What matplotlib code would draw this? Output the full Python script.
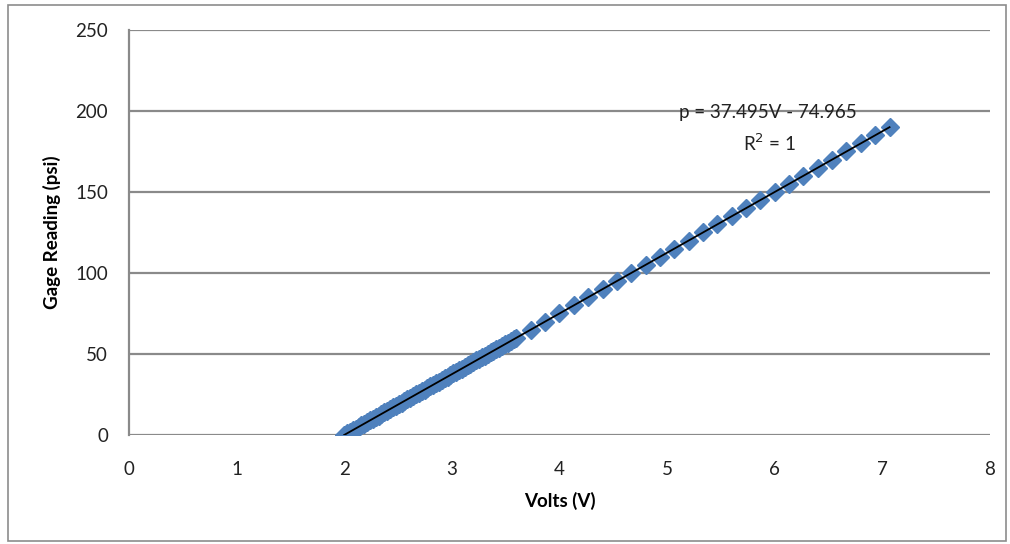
import matplotlib.pyplot as plt
from matplotlib.patches import Rectangle

# gage readings (psi) and measured volts
volts = [1.9993, 2.0260, 2.0527, 2.0794, 2.1060, 2.1327, 2.1594, 2.1860,
         2.2127, 2.2394, 2.2660, 2.2927, 2.3194, 2.3461, 2.3727, 2.3994,
         2.4261, 2.4528, 2.4794, 2.5061, 2.5328, 2.5594, 2.5861, 2.6128,
         2.6394, 2.6661, 2.6928, 2.7195, 2.7461, 2.7728, 2.7995, 2.8262,
         2.8528, 2.8795, 2.9062, 2.9328, 2.9595, 2.9862, 3.0128, 3.0395,
         3.0662, 3.0929, 3.1195, 3.1462, 3.1729, 3.1996, 3.2262, 3.2529,
         3.2796, 3.3062, 3.3329, 3.3596, 3.3862, 3.4129, 3.4396, 3.4663,
         3.4929, 3.5196, 3.5463, 3.5729, 3.5996,
         3.7329, 3.8663, 3.9996, 4.1330, 4.2663, 4.3997, 4.5330, 4.6664,
         4.7997, 4.9331, 5.0664, 5.1998, 5.3331, 5.4665, 5.5998, 5.7332,
         5.8665, 5.9999, 6.1332, 6.2666, 6.3999, 6.5333, 6.6666, 6.8000,
         6.9333, 7.0667]
gage = [0, 1, 2, 3, 4, 5, 6, 7, 8, 9, 10, 11, 12, 13, 14, 15,
        16, 17, 18, 19, 20, 21, 22, 23, 24, 25, 26, 27, 28, 29, 30, 31,
        32, 33, 34, 35, 36, 37, 38, 39, 40, 41, 42, 43, 44, 45, 46, 47,
        48, 49, 50, 51, 52, 53, 54, 55, 56, 57, 58, 59, 60,
        65, 70, 75, 80, 85, 90, 95, 100, 105, 110, 115, 120, 125, 130,
        135, 140, 145, 150, 155, 160, 165, 170, 175, 180, 185, 190]

slope = 37.495
intercept = -74.965
fit_x = [volts[0], volts[-1]]
fit_y = [slope * v + intercept for v in fit_x]

plt.rcParams['font.family'] = ['Lato', 'DejaVu Sans']

fig = plt.figure(figsize=(10.1, 5.44), dpi=100)
ax = fig.add_axes([0.1277, 0.2004, 0.8525, 0.7445])

fig.patches.append(Rectangle((0.008, 0.006), 0.988, 0.985, transform=fig.transFigure,
                             fill=False, edgecolor='#8c8c8c', linewidth=1.2))

ax.plot(volts, gage, linestyle='none', marker='D', markersize=9.5,
        color='#4f81bd', markeredgecolor='#4f81bd', zorder=3)
ax.plot(fit_x, fit_y, color='black', linewidth=1.3, zorder=4)

ax.set_xlim(0, 8)
ax.set_ylim(0, 250)
ax.set_xticks(range(0, 9))
ax.set_yticks(range(0, 251, 50))
ax.grid(axis='y', color='#8a8a8a', linewidth=1.6)
ax.set_axisbelow(True)
for s in ['top', 'right', 'bottom']:
    ax.spines[s].set_visible(False)
ax.spines['left'].set_color('#8a8a8a')
ax.spines['left'].set_linewidth(1.6)
ax.tick_params(axis='both', length=0, labelsize=13.5, colors='#222222')
ax.tick_params(axis='x', pad=19)
ax.tick_params(axis='y', pad=15)

ax.set_xlabel('Volts (V)', fontsize=13.5, fontweight='bold', labelpad=10)
ax.set_ylabel('Gage Reading (psi)', fontsize=13.5, fontweight='bold', labelpad=10)

ax.text(5.94, 199, 'p = 37.495V - 74.965', ha='center', va='center',
        fontsize=13.5, color='#222222')
ax.text(5.95, 180, 'R$^2$ = 1', ha='center', va='center',
        fontsize=13.5, color='#222222')

fig.savefig('out.png', dpi=100)
